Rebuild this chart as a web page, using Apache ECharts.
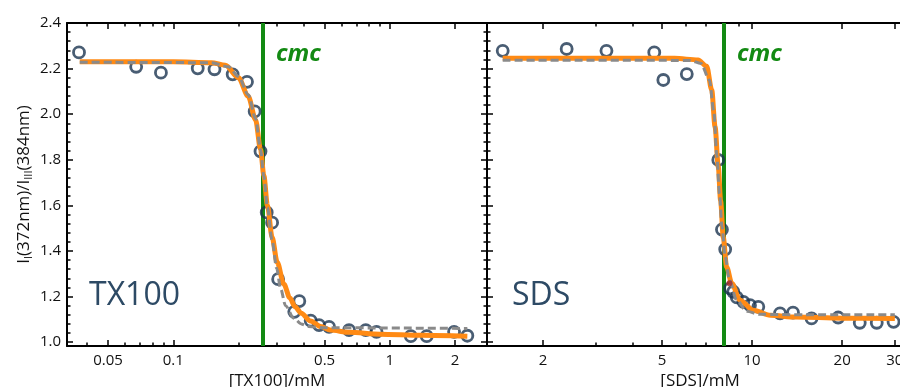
<!DOCTYPE html>
<html><head><meta charset="utf-8">
<script src="https://cdn.jsdelivr.net/npm/echarts@6/dist/echarts.min.js"></script>
<style>html,body{margin:0;padding:0;background:#fff}#c{width:900px;height:387px}</style>
</head><body><div id="c"></div>
<script>
// ---- data ----
const tx100Conc  = [0.0367,0.0674,0.0877,0.1297,0.155,0.188,0.219,0.2376,0.2528,0.270,0.286,0.305,0.362,0.382,0.431,0.471,0.524,0.648,0.774,0.868,1.25,1.48,1.98,2.28];
const tx100Ratio = [2.271,2.208,2.182,2.201,2.197,2.175,2.142,2.012,1.837,1.569,1.524,1.276,1.133,1.180,1.094,1.075,1.067,1.053,1.053,1.045,1.026,1.026,1.045,1.028];
const tx100FitX  = [0.037,0.1,0.15,0.174,0.2,0.222,0.24,0.253,0.262,0.272,0.286,0.302,0.324,0.345,0.365,0.39,0.43,0.48,0.53,0.65,0.9,1.4,2.28];
const tx100FitY  = [2.230,2.230,2.226,2.215,2.160,2.078,1.975,1.845,1.730,1.600,1.460,1.350,1.255,1.195,1.155,1.127,1.093,1.068,1.053,1.043,1.035,1.030,1.026];
const tx100Fit2X = [0.037,0.15,0.18,0.2,0.222,0.24,0.253,0.262,0.272,0.286,0.300,0.313,0.33,0.36,0.39,0.42,0.5,2.28];
const tx100Fit2Y = [2.228,2.226,2.208,2.165,2.085,1.980,1.845,1.725,1.590,1.445,1.325,1.235,1.160,1.105,1.080,1.068,1.063,1.060];
const tx100Cmc = 0.259;

const sdsConc  = [1.467,2.40,3.26,4.71,5.05,6.05,7.71,7.93,8.13,8.44,8.65,8.89,9.35,9.84,10.49,12.4,13.7,15.8,19.4,22.9,26.1,29.7];
const sdsRatio = [2.278,2.286,2.278,2.271,2.150,2.176,1.799,1.494,1.407,1.236,1.221,1.196,1.177,1.162,1.155,1.126,1.129,1.104,1.108,1.085,1.085,1.089];
const sdsFitX  = [1.467,5.5,6.6,7.05,7.33,7.52,7.71,7.85,8.01,8.22,8.55,9.11,10.1,11.5,14,20,30];
const sdsFitY  = [2.245,2.245,2.238,2.210,2.106,1.945,1.769,1.620,1.460,1.330,1.258,1.184,1.140,1.118,1.110,1.105,1.104];
const sdsFit2X = [1.467,6.2,6.75,7.2,7.45,7.62,7.78,7.93,8.13,8.40,8.88,9.6,10.6,15,30];
const sdsFit2Y = [2.237,2.236,2.222,2.150,2.010,1.820,1.650,1.506,1.374,1.272,1.184,1.135,1.122,1.120,1.120];
const sdsCmc = 8.05;
const sdsMarkX = [8.4], sdsMarkY = [1.258];

const yMajorTicks = [1.0,1.2,1.4,1.6,1.8,2.0,2.2,2.4];
const yMinorTicks = [1.04,1.08,1.12,1.16,1.24,1.28,1.32,1.36,1.44,1.48,1.52,1.56,1.64,1.68,1.72,1.76,1.84,1.88,1.92,1.96,2.04,2.08,2.12,2.16,2.24,2.28,2.32,2.36];
const txMajorTicks = [0.05,0.1,0.5,1,2];
const txTickLabels = ['0.05','0.1','0.5','1','2'];
const txMinorTicks = [0.04,0.06,0.07,0.08,0.09,0.2,0.3,0.4,0.6,0.7,0.8,0.9];
const sdsMajorTicks = [2,5,10,20,30];
const sdsTickLabels = ['2','5','10','20','30'];
const sdsMinorTicks = [3,4,6,7,8,9];

// ---- styling / option ----
const FONT = 'Open Sans';
const ORANGE = '#ff8a14', GRAY = '#8a8a8a', NAVY = '#1b3550', GREEN = '#138a13';
function pairs(xs, ys){ return xs.map((x,i)=>[x, ys[i]]); }
function labelFor(v, vals, labels){
  let best = 0, bd = Infinity;
  vals.forEach((t,i)=>{ const d = Math.abs(Math.log(t) - Math.log(v)); if (d < bd){bd=d;best=i;} });
  return labels[best];
}
const tickStyle = {color:'#000', width:1.5};
const lineFrame = {show:true, onZero:false, lineStyle:{color:'#000', width:2}};

function xAxesFor(g, min, max, major, minor, labels, name){
  const base = {gridIndex:g, type:'log', logBase:10, min, max, splitLine:{show:false}, minorTick:{show:false}, minorSplitLine:{show:false}};
  return [
    Object.assign({}, base, {position:'bottom', axisLine:lineFrame,
      axisTick:{show:true, inside:true, length:6, lineStyle:tickStyle, customValues:major},
      axisLabel:{show:true, customValues:major, formatter:v=>labelFor(v, major, labels), color:'#111', fontSize:15, fontFamily:FONT, margin:7},
      name, nameLocation:'middle', nameGap:24, nameTextStyle:{color:'#111', fontSize:17, fontFamily:FONT}}),
    Object.assign({}, base, {position:'bottom', axisLine:{show:false},
      axisTick:{show:true, inside:true, length:3.5, lineStyle:tickStyle, customValues:minor}, axisLabel:{show:false}}),
    Object.assign({}, base, {position:'top', axisLine:lineFrame,
      axisTick:{show:true, inside:true, length:6, lineStyle:tickStyle, customValues:major}, axisLabel:{show:false}}),
    Object.assign({}, base, {position:'top', axisLine:{show:false},
      axisTick:{show:true, inside:true, length:3.5, lineStyle:tickStyle, customValues:minor}, axisLabel:{show:false}})
  ];
}
function yAxesFor(g, withLabels){
  const base = {gridIndex:g, type:'value', min:0.983, max:2.4, splitLine:{show:false}, minorTick:{show:false}};
  const left = Object.assign({}, base, {position:'left', axisLine:lineFrame,
      axisTick:{show:true, inside:true, length:6, lineStyle:tickStyle, customValues:yMajorTicks},
      axisLabel:{show:withLabels, customValues:yMajorTicks, formatter:v=>v.toFixed(1), color:'#111', fontSize:15, fontFamily:FONT, margin:6}});
  if (withLabels){
    left.name = '{m|I}{s|I}{m|(372nm)/I}{s|III}{m|(384nm)}';
    left.nameLocation = 'middle';
    left.nameGap = 33;
    left.nameTextStyle = {rich:{
      m:{fontSize:17, fontFamily:FONT, color:'#111', lineHeight:20},
      s:{fontSize:11, fontFamily:FONT, color:'#111', lineHeight:10, verticalAlign:'bottom'}
    }};
  }
  return [
    left,
    Object.assign({}, base, {position:'left', axisLine:{show:false},
      axisTick:{show:true, inside:true, length:3.5, lineStyle:tickStyle, customValues:yMinorTicks}, axisLabel:{show:false}}),
    Object.assign({}, base, {position:'right', axisLine:lineFrame,
      axisTick:{show:true, inside:true, length:6, lineStyle:tickStyle, customValues:yMajorTicks}, axisLabel:{show:false}}),
    Object.assign({}, base, {position:'right', axisLine:{show:false},
      axisTick:{show:true, inside:true, length:3.5, lineStyle:tickStyle, customValues:yMinorTicks}, axisLabel:{show:false}})
  ];
}

function panelSeries(xi, yi, conc, ratio, fx, fy, f2x, f2y, cmc){
  return [
    {type:'line', xAxisIndex:xi, yAxisIndex:yi, data:[], z:1,
     markLine:{silent:true, z:1, symbol:['none','none'], label:{show:false},
       lineStyle:{color:GREEN, width:4, type:'solid'}, emphasis:{disabled:true}, data:[{xAxis:cmc}]}},
    {type:'scatter', xAxisIndex:xi, yAxisIndex:yi, data:pairs(conc, ratio), z:2, symbol:'circle', symbolSize:11,
     itemStyle:{color:'rgba(255,255,255,0)', borderColor:NAVY, borderWidth:2.8}},
    {type:'line', xAxisIndex:xi, yAxisIndex:yi, data:pairs(fx, fy), z:3, showSymbol:false, smooth:0.3, smoothMonotone:'x',
     lineStyle:{color:ORANGE, width:5}},
    {type:'line', xAxisIndex:xi, yAxisIndex:yi, data:pairs(f2x, f2y), z:4, showSymbol:false, smooth:0.3, smoothMonotone:'x',
     lineStyle:{color:GRAY, width:3, type:[8,4]}}
  ];
}

const option = {
  backgroundColor:'#fff',
  animation:false,
  grid:[
    {left:67, right:413, top:23, bottom:41, outerBoundsMode:'none', containLabel:false},
    {left:487, right:-13, top:23, bottom:41, outerBoundsMode:'none', containLabel:false}
  ],
  xAxis:[].concat(
    xAxesFor(0, 0.0323, 2.81, txMajorTicks, txMinorTicks, txTickLabels, '[TX100]/mM'),
    xAxesFor(1, 1.30, 34.5, sdsMajorTicks, sdsMinorTicks, sdsTickLabels, '[SDS]/mM')
  ),
  yAxis:[].concat(yAxesFor(0, true), yAxesFor(1, false)),
  series:[].concat(
    panelSeries(0, 0, tx100Conc, tx100Ratio, tx100FitX, tx100FitY, tx100Fit2X, tx100Fit2Y, tx100Cmc),
    panelSeries(4, 4, sdsConc, sdsRatio, sdsFitX, sdsFitY, sdsFit2X, sdsFit2Y, sdsCmc),
    [{type:'scatter', xAxisIndex:4, yAxisIndex:4, data:pairs(sdsMarkX, sdsMarkY), z:6, symbolSize:6,
      itemStyle:{color:'#a52a2a'}}]
  ),
  graphic:[
    {type:'text', left:276, top:42, style:{text:'cmc', fill:GREEN, font:'italic bold 24px "Open Sans"'}},
    {type:'text', left:737, top:42, style:{text:'cmc', fill:GREEN, font:'italic bold 24px "Open Sans"'}},
    {type:'text', left:89, top:280, style:{text:'TX100', fill:'#2d4a65', font:'32px "Open Sans"'}},
    {type:'text', left:512, top:280, style:{text:'SDS', fill:'#2d4a65', font:'32px "Open Sans"'}}
  ]
};
const chart = echarts.init(document.getElementById('c'));
chart.setOption(option);
</script>
</body></html>
